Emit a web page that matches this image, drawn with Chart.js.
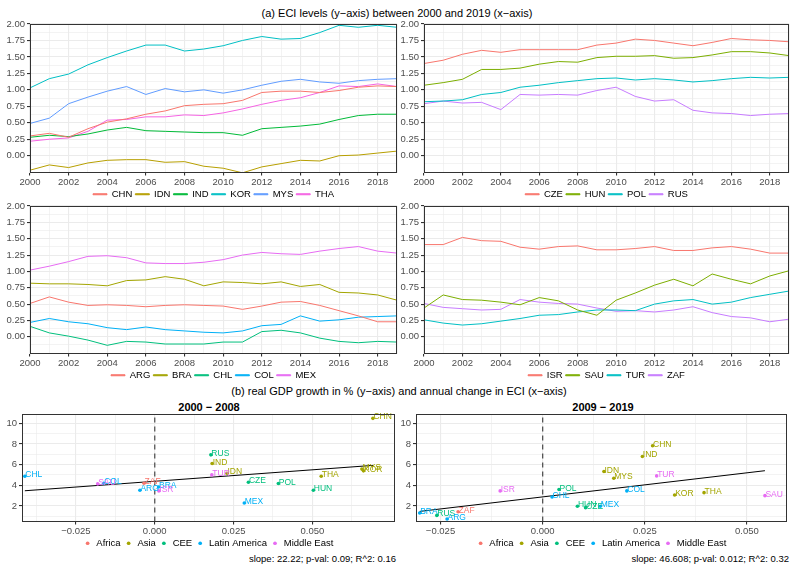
<!DOCTYPE html>
<html>
<head>
<meta charset="utf-8">
<script src="https://cdn.jsdelivr.net/npm/chart.js@4.4.1/dist/chart.umd.min.js"></script>
<style>
  body { margin: 0; width: 791px; height: 566px; background: #fff; position: relative; overflow: hidden;
         font-family: "Liberation Sans", Arial, sans-serif; }
  canvas { position: absolute; }
  .txt { position: absolute; white-space: nowrap; color: #000; line-height: 14px; }
  .mid { transform: translateX(-50%); }
</style>
</head>
<body>
<div class="txt mid" style="left:397px;top:6px;font-size:11px;">(a) ECI levels (y−axis) between 2000 and 2019 (x−axis)</div>
<div class="txt mid" style="left:399px;top:384px;font-size:11px;">(b) real GDP growth in % (y−axis) and annual change in ECI (x−axis)</div>
<div class="txt mid" style="left:209px;top:400px;font-size:11px;font-weight:bold;">2000 − 2008</div>
<div class="txt mid" style="left:603px;top:400px;font-size:11px;font-weight:bold;">2009 − 2019</div>
<div class="txt" id="note1" style="right:395px;top:552px;font-size:9.5px;"></div>
<div class="txt" id="note2" style="right:2px;top:552px;font-size:9.5px;"></div>

<canvas id="tl" width="400" height="191" style="left:0px;top:18px"></canvas>
<canvas id="tr" width="397" height="191" style="left:394px;top:18px"></canvas>
<canvas id="ml" width="400" height="190" style="left:0px;top:200px"></canvas>
<canvas id="mr" width="397" height="190" style="left:394px;top:200px"></canvas>
<canvas id="bl" width="400" height="148" style="left:0px;top:410px"></canvas>
<canvas id="br" width="396" height="148" style="left:395px;top:410px"></canvas>

<script>
// ---- ECI levels, 2000..2019 ----
const years = ['2000','2001','2002','2003','2004','2005','2006','2007','2008','2009',
               '2010','2011','2012','2013','2014','2015','2016','2017','2018','2019'];

const chn = [0.30,0.34,0.28,0.41,0.51,0.56,0.63,0.68,0.76,0.78,0.79,0.84,0.96,0.98,0.98,0.96,0.99,1.04,1.06,1.05];
const idn = [-0.22,-0.14,-0.18,-0.11,-0.07,-0.06,-0.06,-0.10,-0.09,-0.16,-0.19,-0.26,-0.17,-0.12,-0.07,-0.08,0.00,0.01,0.04,0.07];
const ind = [0.28,0.31,0.29,0.33,0.39,0.43,0.38,0.37,0.36,0.35,0.35,0.31,0.41,0.43,0.45,0.48,0.55,0.61,0.63,0.63];
const kor = [1.03,1.17,1.24,1.38,1.49,1.59,1.68,1.68,1.59,1.62,1.67,1.75,1.81,1.77,1.78,1.87,1.98,1.95,1.98,1.95];
const mys = [0.49,0.57,0.79,0.89,0.98,1.05,0.93,1.02,0.97,1.00,0.95,1.00,1.07,1.13,1.16,1.12,1.10,1.14,1.16,1.17];
const tha = [0.22,0.25,0.27,0.37,0.54,0.55,0.59,0.59,0.62,0.61,0.65,0.71,0.78,0.84,0.88,0.96,1.06,1.05,1.09,1.05];

const cze = [1.40,1.45,1.54,1.60,1.57,1.61,1.61,1.61,1.61,1.68,1.71,1.77,1.75,1.71,1.67,1.72,1.78,1.76,1.75,1.73];
const hun = [1.07,1.11,1.16,1.31,1.31,1.33,1.39,1.43,1.42,1.49,1.51,1.51,1.52,1.48,1.49,1.53,1.58,1.58,1.56,1.52];
const pol = [0.82,0.83,0.85,0.93,0.96,1.04,1.07,1.11,1.14,1.17,1.18,1.15,1.17,1.15,1.12,1.14,1.17,1.19,1.18,1.19];
const rus = [0.79,0.83,0.80,0.81,0.70,0.93,0.92,0.93,0.92,0.99,1.04,0.90,0.83,0.85,0.69,0.65,0.64,0.61,0.63,0.64];

const arg = [0.51,0.61,0.53,0.48,0.49,0.48,0.46,0.48,0.49,0.48,0.47,0.42,0.47,0.53,0.54,0.48,0.40,0.32,0.23,0.23];
const bra = [0.82,0.81,0.81,0.80,0.78,0.86,0.87,0.92,0.88,0.78,0.84,0.83,0.81,0.84,0.77,0.80,0.68,0.67,0.64,0.56];
const chl = [0.16,0.06,0.01,-0.05,-0.13,-0.07,-0.08,-0.11,-0.11,-0.11,-0.08,-0.08,0.08,0.10,0.06,-0.02,-0.07,-0.09,-0.07,-0.08];
const col = [0.22,0.28,0.23,0.20,0.14,0.11,0.15,0.11,0.09,0.07,0.06,0.09,0.17,0.19,0.32,0.24,0.26,0.30,0.31,0.32];
const mex = [1.02,1.08,1.15,1.23,1.24,1.21,1.13,1.12,1.12,1.14,1.18,1.25,1.29,1.27,1.26,1.31,1.35,1.38,1.31,1.28];

const isr = [1.41,1.41,1.52,1.47,1.46,1.37,1.34,1.38,1.39,1.33,1.33,1.35,1.38,1.32,1.32,1.36,1.38,1.34,1.28,1.28];
const sau = [0.44,0.64,0.57,0.56,0.53,0.49,0.60,0.55,0.41,0.33,0.56,0.67,0.79,0.88,0.78,0.96,0.88,0.81,0.93,1.01];
const tur = [0.26,0.21,0.18,0.20,0.24,0.28,0.33,0.34,0.38,0.41,0.41,0.40,0.50,0.55,0.57,0.50,0.53,0.60,0.65,0.70];
const zaf = [0.51,0.45,0.43,0.41,0.42,0.57,0.53,0.51,0.50,0.44,0.39,0.40,0.38,0.41,0.46,0.37,0.31,0.29,0.23,0.27];

const eciTicks = [-0.25,-0.125,0,0.125,0.25,0.375,0.5,0.625,0.75,0.875,1,1.125,1.25,1.375,1.5,1.625,1.75,1.875,2];

// ---- GDP growth vs ECI change ----
const countries = ['CHN','IDN','IND','KOR','MYS','THA','CZE','HUN','POL','RUS','ARG','BRA','CHL','COL','MEX','ISR','SAU','TUR','ZAF'];
const regionOf = ['Asia','Asia','Asia','Asia','Asia','Asia','CEE','CEE','CEE','CEE',
                  'Latin America','Latin America','Latin America','Latin America','Latin America',
                  'Middle East','Middle East','Middle East','Africa'];
const regions = ['Africa','Asia','CEE','Latin America','Middle East'];

const eciChange0008 = [0.0692,0.0229,0.0182,0.0662,0.0657,0.0528,0.0297,0.0503,0.0392,0.0178,-0.0047,0.0012,-0.0412,-0.0162,0.0284,0.0013,-0.0181,0.0181,-0.0034];
const gdpGrowth0008 = [10.48,5.17,6.11,5.40,5.57,4.88,4.30,3.52,4.17,6.95,3.52,3.84,4.88,4.20,2.29,3.46,4.14,5.01,4.20];
const eciChange0919 = [0.0269,0.0150,0.0244,0.0323,0.0174,0.0395,0.0105,0.0085,0.0040,-0.0259,-0.0234,-0.0301,0.0023,0.0206,0.0141,-0.0104,0.0544,0.0279,-0.0207];
const gdpGrowth0919 = [7.83,5.33,6.79,3.07,4.69,3.29,1.84,1.97,3.59,1.09,0.74,1.32,2.87,3.46,1.97,3.46,3.00,4.91,1.45];

const fitSlope = [22.22, 46.608];
const fitIntercept = [4.39, 2.88];
const fitNotes = ['slope: 22.22; p-val: 0.09; R^2: 0.16', 'slope: 46.608; p-val: 0.012; R^2: 0.32'];

const scatterXTicks = [-0.0375,-0.025,-0.0125,0,0.0125,0.025,0.0375,0.05,0.0625];
const scatterYTicks = [1,2,3,4,5,6,7,8,9,10];

const hue6 = ['#F8766D','#B79F00','#00BA38','#00BFC4','#619CFF','#F564E3'];
const hue5 = ['#F8766D','#A3A500','#00BF7D','#00B0F6','#E76BF3'];
const hue4 = ['#F8766D','#7CAE00','#00BFC4','#C77CFF'];

const FONT = '"Liberation Sans", Arial, sans-serif';
Chart.defaults.font.family = FONT;
Chart.defaults.color = '#000';

// panel border like ggplot theme_bw
const frame = {
  id: 'frame',
  afterDraw(chart) {
    const { ctx, chartArea: a } = chart;
    ctx.save();
    ctx.strokeStyle = '#333';
    ctx.lineWidth = 1;
    const l = Math.round(a.left) + 0.5, t = Math.round(a.top) + 0.5;
    ctx.strokeRect(l, t, Math.round(a.right) - Math.round(a.left) - 1, Math.round(a.bottom) - Math.round(a.top) - 1);
    ctx.restore();
  }
};

// country codes next to the scatter points
const pointNames = {
  id: 'pointNames',
  afterDatasetsDraw(chart) {
    const ctx = chart.ctx;
    ctx.save();
    ctx.font = '8.5px ' + FONT;
    ctx.textAlign = 'left';
    ctx.textBaseline = 'alphabetic';
    chart.data.datasets.forEach((ds, i) => {
      if (!ds.names) return;
      ctx.fillStyle = ds.backgroundColor;
      chart.getDatasetMeta(i).data.forEach((el, j) => {
        ctx.fillText(ds.names[j], el.x + 0.5, el.y + 1);
      });
    });
    ctx.restore();
  }
};

const isStep = (v, s) => Math.abs(v / s - Math.round(v / s)) < 1e-6;
const minus = s => s.replace('-', '−');
const noPad = s => { s.paddingTop = 0; s.paddingBottom = 0; s.paddingLeft = 0; s.paddingRight = 0; };

function linePanel(id, codes, series, colors, padRight) {
  new Chart(document.getElementById(id), {
    type: 'line',
    data: {
      labels: years,
      datasets: codes.map((c, i) => ({
        label: c, data: series[i], borderColor: colors[i], backgroundColor: colors[i],
        borderWidth: 1, pointRadius: 0, tension: 0
      }))
    },
    options: {
      responsive: false, animation: false, devicePixelRatio: 1,
      layout: { padding: { top: 6, right: padRight, left: 0, bottom: 0 } },
      plugins: {
        tooltip: { enabled: false },
        legend: {
          position: 'bottom', fullSize: false,
          labels: { boxWidth: 14, boxHeight: 1, padding: 3, color: '#000', font: { size: 9.5 } }
        }
      },
      scales: {
        x: {
          offset: false,
          afterFit(s) { s.height = 14; noPad(s); },
          border: { display: false },
          grid: {
            color: '#ebebeb',
            lineWidth: c => (c.index % 2 === 0 ? 1.1 : 0.6),
            tickLength: 3,
            tickColor: c => (c.index % 2 === 0 ? '#333' : 'rgba(0,0,0,0)')
          },
          ticks: {
            autoSkip: false, maxRotation: 0, padding: 1, color: '#4d4d4d', font: { size: 9.5 },
            callback: (v, i) => (i % 2 === 0 ? years[i] : '')
          }
        },
        y: {
          min: -0.255, max: 2,
          afterBuildTicks(s) { s.ticks = eciTicks.map(v => ({ value: v })); },
          afterFit(s) { s.width = 30; noPad(s); },
          border: { display: false },
          grid: {
            color: '#ebebeb',
            lineWidth: c => (isStep(c.tick.value, 0.25) ? 1.1 : 0.6),
            tickLength: 3,
            tickColor: c => (isStep(c.tick.value, 0.25) && c.tick.value >= 0 ? '#333' : 'rgba(0,0,0,0)')
          },
          ticks: {
            autoSkip: false, padding: 2, color: '#4d4d4d', font: { size: 9.5 },
            callback: v => (isStep(v, 0.25) && v >= 0 ? v.toFixed(2) : '')
          }
        }
      }
    },
    plugins: [frame]
  });
}

linePanel('tl', ['CHN','IDN','IND','KOR','MYS','THA'], [chn, idn, ind, kor, mys, tha], hue6, 3);
linePanel('tr', ['CZE','HUN','POL','RUS'], [cze, hun, pol, rus], hue4, 2);
linePanel('ml', ['ARG','BRA','CHL','COL','MEX'], [arg, bra, chl, col, mex], hue5, 3);
linePanel('mr', ['ISR','SAU','TUR','ZAF'], [isr, sau, tur, zaf], hue4, 2);

function scatterPanel(id, k, xs, ys, xMin, xMax, yWidth, padRight) {
  const yMin = 0.5, yMax = 10.9;
  const datasets = regions.map((r, ri) => {
    const idx = countries.map((c, i) => i).filter(i => regionOf[i] === r);
    return {
      type: 'scatter', label: r, order: 0,
      data: idx.map(i => ({ x: xs[i], y: ys[i] })),
      names: idx.map(i => countries[i]),
      backgroundColor: hue5[ri], borderColor: hue5[ri], borderWidth: 0,
      pointRadius: 1.8, pointStyle: 'circle'
    };
  });
  const lo = Math.min(...xs), hi = Math.max(...xs);
  datasets.push({
    type: 'line', label: 'zero', order: 1,
    data: [{ x: 0, y: yMin }, { x: 0, y: yMax }],
    borderColor: '#555', borderWidth: 1.3, borderDash: [5, 4], pointRadius: 0
  });
  datasets.push({
    type: 'line', label: 'fit', order: 1,
    data: [{ x: lo, y: fitIntercept[k] + fitSlope[k] * lo }, { x: hi, y: fitIntercept[k] + fitSlope[k] * hi }],
    borderColor: '#000', borderWidth: 1, pointRadius: 0
  });
  document.getElementById('note' + (k + 1)).textContent = fitNotes[k];

  new Chart(document.getElementById(id), {
    type: 'scatter',
    data: { datasets },
    options: {
      responsive: false, animation: false, devicePixelRatio: 1,
      layout: { padding: { top: 4, right: padRight, left: 0, bottom: 0 } },
      plugins: {
        tooltip: { enabled: false },
        legend: {
          position: 'bottom', fullSize: false,
          labels: {
            usePointStyle: true, boxWidth: 8, boxHeight: 2.6, padding: 4, color: '#000', font: { size: 9.5 },
            filter: item => regions.includes(item.text)
          }
        }
      },
      scales: {
        x: {
          type: 'linear', min: xMin, max: xMax,
          afterBuildTicks(s) { s.ticks = scatterXTicks.filter(v => v >= xMin && v <= xMax).map(v => ({ value: v })); },
          afterFit(s) { s.height = 13; noPad(s); },
          border: { display: false },
          grid: {
            color: '#ebebeb',
            lineWidth: c => (isStep(c.tick.value, 0.025) ? 1.1 : 0.6),
            tickLength: 3,
            tickColor: c => (isStep(c.tick.value, 0.025) ? '#333' : 'rgba(0,0,0,0)')
          },
          ticks: {
            autoSkip: false, maxRotation: 0, padding: 1, color: '#4d4d4d', font: { size: 9.5 },
            callback: v => (isStep(v, 0.025) ? minus(v.toFixed(3)) : '')
          }
        },
        y: {
          min: yMin, max: yMax,
          afterBuildTicks(s) { s.ticks = scatterYTicks.map(v => ({ value: v })); },
          afterFit(s) { s.width = yWidth; noPad(s); },
          border: { display: false },
          grid: {
            color: '#ebebeb',
            lineWidth: c => (c.tick.value % 2 === 0 ? 1.1 : 0.6),
            tickLength: 3,
            tickColor: c => (c.tick.value % 2 === 0 ? '#333' : 'rgba(0,0,0,0)')
          },
          ticks: {
            autoSkip: false, padding: 2, color: '#4d4d4d', font: { size: 9.5 },
            callback: v => (v % 2 === 0 ? String(v) : '')
          }
        }
      }
    },
    plugins: [frame, pointNames]
  });
}

scatterPanel('bl', 0, eciChange0008, gdpGrowth0008, -0.0421, 0.0762, 22, 5);
scatterPanel('br', 1, eciChange0919, gdpGrowth0919, -0.031, 0.0598, 21, 2);
</script>
</body>
</html>
